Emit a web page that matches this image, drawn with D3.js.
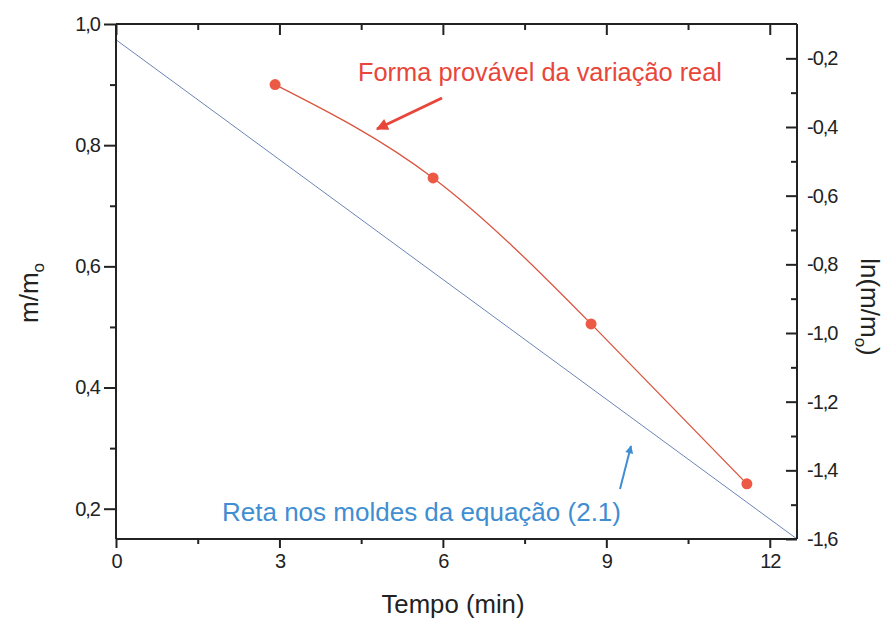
<!DOCTYPE html>
<html><head><meta charset="utf-8">
<script src="https://cdn.jsdelivr.net/npm/d3@7"></script>
<style>body{margin:0;background:#fff}svg{display:block}text{font-family:Arial,"Liberation Sans",sans-serif}</style>
</head><body><svg id="c" width="889" height="618"></svg>
<script>
// Data
const tempo = [2.92, 5.82, 8.72, 11.58];          // min
const mRatio = [0.900, 0.746, 0.505, 0.241];       // m/m0 (left axis)
const retaTempo = [0, 12.5];                       // straight line ends
const retaLn = [-0.146, -1.6];                     // ln(m/m0) (right axis)
const xTicks = [0, 3, 6, 9, 12];
const yLeftTicks = [0.2, 0.4, 0.6, 0.8, 1.0];
const yRightTicks = [-1.6, -1.4, -1.2, -1.0, -0.8, -0.6, -0.4, -0.2];

const svg = d3.select("#c");
const L = 116, R = 797, T = 24, B = 539;
const x = d3.scaleLinear().domain([0, 12.5]).range([L, R]);
const yL = d3.scaleLinear().domain([0.15, 1.0]).range([B, T]);
const yR = d3.scaleLinear().domain([-1.6, -0.1]).range([B, T]);
const fmt = d => d3.format(".1f")(d).replace(".", ",").replace("−","-");
const axisCol = "#222";

// Blue straight line
svg.append("path")
  .datum(retaTempo.map((t, i) => [t, retaLn[i]]))
  .attr("d", d3.line().x(d => x(d[0])).y(d => yR(d[1])))
  .attr("fill", "none").attr("stroke", "#6a86b4").attr("stroke-width", 1);

// Red curve
svg.append("path")
  .datum(tempo.map((t, i) => [t, mRatio[i]]))
  .attr("d", d3.line().x(d => x(d[0])).y(d => yL(d[1])).curve(d3.curveNatural))
  .attr("fill", "none").attr("stroke", "#d9553f").attr("stroke-width", 1.3);

svg.selectAll("circle.pt").data(tempo).join("circle").attr("class", "pt")
  .attr("cx", d => x(d)).attr("cy", (d, i) => yL(mRatio[i])).attr("r", 5.5)
  .attr("fill", "#ec5a45");

// Axes
const gB = svg.append("g").attr("transform", `translate(0,${B})`)
  .call(d3.axisBottom(x).tickValues(xTicks).tickSize(9).tickPadding(6).tickFormat(d3.format("d")));
const gBm = svg.append("g").attr("transform", `translate(0,${B})`)
  .call(d3.axisBottom(x).tickValues([1.5, 4.5, 7.5, 10.5]).tickSize(5).tickFormat(""));
const gT = svg.append("g").attr("transform", `translate(0,${T})`)
  .call(d3.axisBottom(x).tickValues(xTicks).tickSize(11).tickFormat(""));
const gTm = svg.append("g").attr("transform", `translate(0,${T})`)
  .call(d3.axisBottom(x).tickValues([1.5, 4.5, 7.5, 10.5]).tickSize(6).tickFormat(""));
const gL = svg.append("g").attr("transform", `translate(${L},0)`)
  .call(d3.axisLeft(yL).tickValues(yLeftTicks).tickSize(12).tickPadding(4).tickFormat(fmt));
const gLm = svg.append("g").attr("transform", `translate(${L},0)`)
  .call(d3.axisLeft(yL).tickValues([0.3, 0.5, 0.7, 0.9]).tickSize(6).tickFormat(""));
const gR = svg.append("g").attr("transform", `translate(${R},0)`)
  .call(d3.axisRight(yR).tickValues(yRightTicks).tickSize(-11).tickPadding(10).tickFormat(fmt));
const gRm = svg.append("g").attr("transform", `translate(${R},0)`)
  .call(d3.axisRight(yR).tickValues([-1.5, -1.3, -1.1, -0.9, -0.7, -0.5, -0.3]).tickSize(-6).tickFormat(""));

[gB, gBm, gT, gTm, gL, gLm, gR, gRm].forEach(g => {
  g.select(".domain").attr("stroke", axisCol).attr("stroke-width", 2);
  g.selectAll(".tick line").attr("stroke", axisCol).attr("stroke-width", 2);
  g.selectAll("text").attr("fill", "#222").style("font-size", "20px").style("letter-spacing", "-1px");
});
[gT, gTm].forEach(g => g.select(".domain").attr("d", `M${L},0H${R}`));
[gB, gBm].forEach(g => g.select(".domain").attr("d", `M${L},0H${R}`));
[gL, gLm, gR, gRm].forEach(g => g.select(".domain").attr("d", `M0,${T}V${B}`));

// Axis titles
svg.append("text").attr("x", 453).attr("y", 613).attr("text-anchor", "middle")
  .attr("textLength", 143).attr("lengthAdjust", "spacingAndGlyphs")
  .style("font-size", "25px").attr("fill", "#222").text("Tempo (min)");
const yt = svg.append("text").attr("transform", "translate(38,293) rotate(-90)").attr("text-anchor", "middle")
  .style("font-size", "26px").attr("fill", "#222");
yt.append("tspan").text("m/m");
yt.append("tspan").attr("dy", 6).style("font-size", "17px").text("o");
const rt = svg.append("text").attr("transform", "translate(861,307) rotate(90)").attr("text-anchor", "middle")
  .style("font-size", "26px").attr("fill", "#222");
rt.append("tspan").text("ln(m/m");
rt.append("tspan").attr("dy", 6).style("font-size", "17px").text("o");
rt.append("tspan").attr("dy", -6).text(")");

// Annotations
const defs = svg.append("defs");
[["ar", "#e8463a"], ["ab", "#3f8ed2"]].forEach(([id, c]) => {
  defs.append("marker").attr("id", id).attr("viewBox", "0 0 10 10").attr("refX", 9).attr("refY", 5)
    .attr("markerWidth", 5).attr("markerHeight", 4).attr("orient", "auto")
    .append("path").attr("d", "M0,0L10,5L0,10z").attr("fill", c);
});
svg.append("text").attr("x", 358).attr("y", 81).attr("textLength", 364).attr("lengthAdjust", "spacingAndGlyphs")
  .style("font-size", "25px").attr("fill", "#e8463a").text("Forma provável da variação real");
svg.append("line").attr("x1", 442).attr("y1", 98).attr("x2", 377).attr("y2", 129)
  .attr("stroke", "#e8463a").attr("stroke-width", 3).attr("marker-end", "url(#ar)");
svg.append("text").attr("x", 222).attr("y", 521).attr("textLength", 399).attr("lengthAdjust", "spacingAndGlyphs")
  .style("font-size", "26px").attr("fill", "#3f8ed2").text("Reta nos moldes da equação (2.1)");
svg.append("line").attr("x1", 620).attr("y1", 489).attr("x2", 631).attr("y2", 446)
  .attr("stroke", "#3f8ed2").attr("stroke-width", 2).attr("marker-end", "url(#ab)");
</script></body></html>
